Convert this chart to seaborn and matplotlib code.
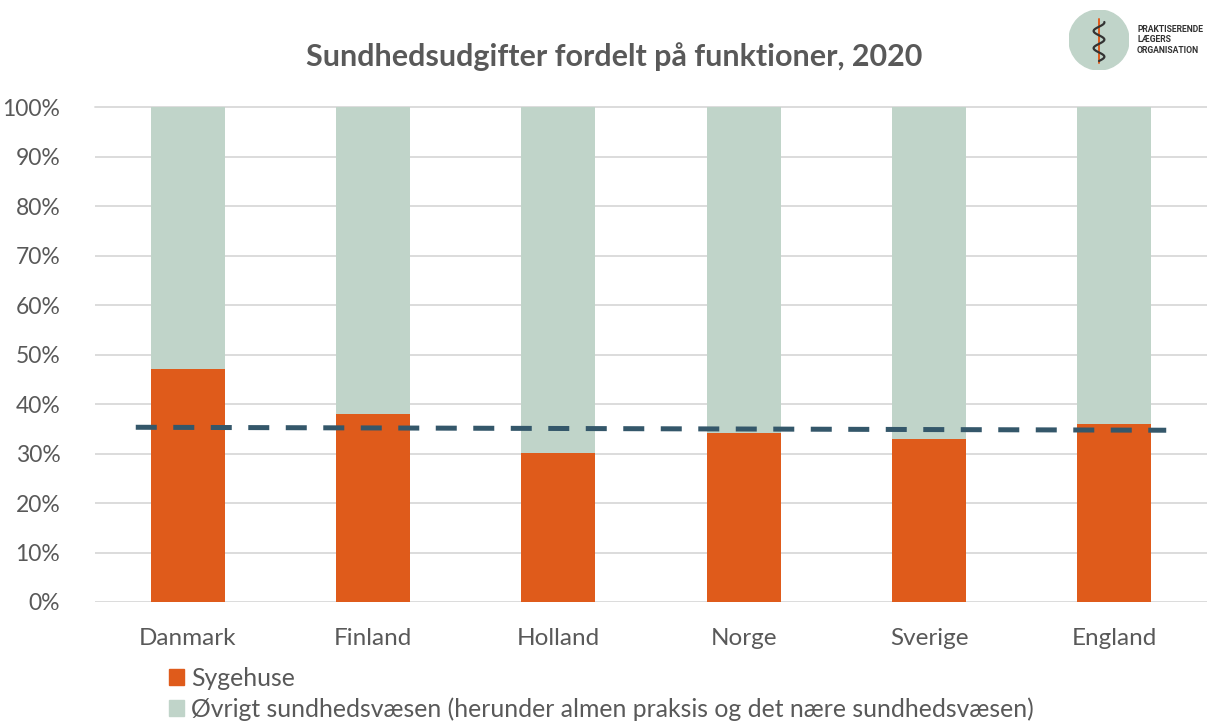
import numpy as np
import pandas as pd
import seaborn as sns
import matplotlib.pyplot as plt
from matplotlib.patches import Circle, Patch

# data (share of health spending, %)
lande = ["Danmark", "Finland", "Holland", "Norge", "Sverige", "England"]
sygehuse = [47.1, 38.0, 30.1, 34.1, 32.9, 36.0]
oevrigt = [100 - v for v in sygehuse]
# dashed reference line (start / end level)
trend_x = [-0.28, 5.28]
trend_y = [35.3, 34.7]
yticks = list(range(0, 101, 10))

orange = "#DF5B1B"
green = "#C0D4C9"
navy = "#34576A"
grey_txt = "#595959"

sns.set_theme(style="white")
plt.rcParams["font.family"] = ["Lato", "DejaVu Sans"]

df = pd.DataFrame({"land": lande, "sygehuse": sygehuse, "oevrigt": oevrigt})
df["total"] = df["sygehuse"] + df["oevrigt"]

fig = plt.figure(figsize=(12.07, 7.24), dpi=100)
ax = fig.add_axes([95 / 1207, 1 - 602 / 724, 1 - 95 / 1207, (602 - 107) / 724])

sns.barplot(data=df, x="land", y="total", color=green, width=0.40,
            saturation=1, linewidth=0, ax=ax, zorder=2)
sns.barplot(data=df, x="land", y="sygehuse", color=orange, width=0.40,
            saturation=1, linewidth=0, ax=ax, zorder=3)

ax.plot(trend_x, trend_y, color=navy, lw=3.6, dashes=(4.2, 3.3),
        solid_capstyle="butt", dash_capstyle="butt", zorder=4)

ax.set_xlim(-0.5, 5.5)
ax.set_ylim(0, 100)
ax.set_yticks(yticks)
ax.set_yticklabels([f"{t}%" for t in yticks])
ax.yaxis.grid(True, color="#D9D9D9", lw=1.3, zorder=0)
ax.set_axisbelow(True)
for s in ax.spines.values():
    s.set_visible(False)
ax.tick_params(axis="y", length=0, pad=25, labelsize=16.5, labelcolor=grey_txt)
ax.tick_params(axis="x", length=0, pad=19, labelsize=17.5, labelcolor=grey_txt)
ax.set_xlabel("")
ax.set_ylabel("")
for lbl in ax.get_yticklabels():
    lbl.set_clip_on(False)
ax.get_ygridlines()[-1].set_clip_on(False)

fig.text(0.509, 1 - 57 / 724, "Sundhedsudgifter fordelt på funktioner, 2020",
         ha="center", va="center", fontsize=22, fontweight="bold", color=grey_txt)

handles = [Patch(color=orange, label="Sygehuse"),
           Patch(color=green, label="Øvrigt sundhedsvæsen (herunder almen praksis og det nære sundhedsvæsen)")]
fig.legend(handles=handles, loc="upper left", bbox_to_anchor=(169 / 1207, 1 - 667 / 724),
           frameon=False, fontsize=17.8, handlelength=0.6, handleheight=0.6,
           handletextpad=0.3, labelspacing=0.3, labelcolor=grey_txt,
           borderaxespad=0, borderpad=0)

# logo
lax = fig.add_axes([1069 / 1207, 1 - 70 / 724, 60 / 1207, 60 / 724])
lax.set_xlim(0, 1)
lax.set_ylim(0, 1)
lax.set_aspect("equal")
lax.axis("off")
lax.add_patch(Circle((0.5, 0.5), 0.5, color=green))
lax.plot([0.5, 0.5], [0.12, 0.85], color=orange, lw=1.4)
sy = np.linspace(0.15, 0.8, 60)
lax.plot(0.5 + 0.09 * np.sin((sy - 0.15) * 22), sy, color="#333333", lw=1.6)
fig.text(1137 / 1207, 1 - 40 / 724, "PRAKTISERENDE\nLÆGERS\nORGANISATION",
         ha="left", va="center", fontsize=6.2, fontweight="bold",
         color="#333333", linespacing=1.15, family=["Roboto", "DejaVu Sans"])

fig.savefig("out.png", dpi=100)
